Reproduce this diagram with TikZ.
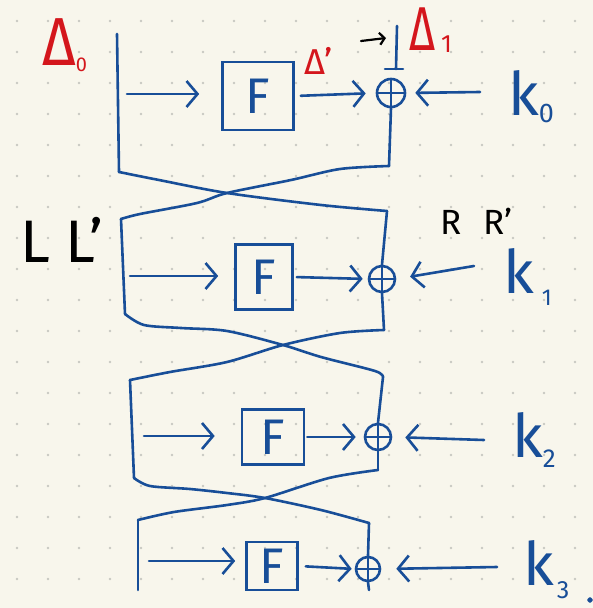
\documentclass[tikz,border=0pt]{standalone}
\usepackage{fontspec}
\setmainfont{Fira Sans}
\usepackage{graphicx}
\usetikzlibrary{arrows.meta}
\definecolor{ink}{RGB}{24,78,152}
\definecolor{redink}{RGB}{212,22,28}
\definecolor{paper}{RGB}{248,246,236}
\definecolor{gdot}{RGB}{200,200,194}
\newcommand\lowtxt[3]{\raisebox{#2}{\fontsize{#1}{#1}\selectfont #3}}
\begin{document}
\begin{tikzpicture}[x=1pt,y=-1pt,
  ink/.style={draw=ink,line width=2.6pt,line cap=round,line join=round},
  arr/.style={ink,-{Straight Barb[length=11pt,width=26pt]}},
  fbox/.style={draw=ink,line width=2.6pt,inner sep=0pt,text=ink,font=\fontsize{50}{50}\selectfont},
  xor/.style={circle,draw=ink,line width=2.6pt,inner sep=0pt,
    path picture={\draw[ink,line width=2.4pt] (path picture bounding box.north) -- (path picture bounding box.south)
      (path picture bounding box.west) -- (path picture bounding box.east);}},
  txt/.style={inner sep=0pt,anchor=base west},
  keyt/.style={txt,text=ink,font=\fontsize{60}{60}\selectfont},
]
\useasboundingbox (0,0) rectangle (593,608);
\fill[paper] (0,0) rectangle (593,608);
\foreach \i in {0,...,18} \foreach \j in {0,...,18}
  \fill[gdot] ({17+31*\i},{21+31*\j}) circle (1.4pt);

% F boxes
\node[fbox,minimum width=71pt,minimum height=68pt] (F0) at (258,96) {F};
\node[fbox,minimum width=57pt,minimum height=65pt] (F1) at (264,277) {F};
\node[fbox,minimum width=62pt,minimum height=55pt] (F2) at (273,437) {F};
\node[fbox,minimum width=51pt,minimum height=48pt] (F3) at (272,566) {F};

% XOR nodes
\node[xor,minimum size=28pt] (X0) at (391,93) {};
\node[xor,minimum size=26pt] (X1) at (382,279) {};
\node[xor,minimum size=26pt] (X2) at (378,437) {};
\node[xor,minimum size=24pt] (X3) at (368,569) {};

% keys
\node[keyt] (k0) at (508,115) {k\lowtxt{27}{-7pt}{0}};
\node[keyt] (k1) at (503,293) {k\hspace{8pt}\lowtxt{23}{-12pt}{1}};
\node[keyt] (k2) at (512,457) {k\lowtxt{26}{-10pt}{2}};
\node[keyt] (k3) at (523,585) {k\hspace{3pt}\lowtxt{25}{-13pt}{3}};
\fill[ink] (590,600) circle (1.6pt);

% labels
\node[txt,text=redink,font=\fontsize{68}{68}\selectfont] (D0) at (42,65) {\scalebox{0.85}[1]{Δ}\lowtxt{20}{-6pt}{0}};
\node[txt,text=redink,font=\fontsize{36}{36}\selectfont] (Dp) at (304,74) {Δ'};
\node[txt,text=redink,font=\fontsize{62}{62}\selectfont] (D1) at (409,50) {\scalebox{0.72}[1]{Δ}\hspace{6pt}\lowtxt{25}{-2pt}{1}};
\node[txt,font=\fontsize{60}{60}\selectfont] (LL) at (20,262) {L L'};
\node[txt,font=\fontsize{35}{35}\selectfont] (RR) at (440,234) {R\hspace{22pt}R'};

% coordinates
\coordinate (L0a) at (117,34);  \coordinate (L0b) at (119,172);
\coordinate (R0a) at (397,26);  \coordinate (R0t) at (396,69);
\coordinate (T0l) at (385,69);  \coordinate (T0r) at (403,69);
\coordinate (R0b) at (389,166); \coordinate (C0) at (227,193);
\coordinate (L1a) at (121,219); \coordinate (L1b) at (125,314);
\coordinate (R1a) at (387,211); \coordinate (R1b) at (384,330);
\coordinate (C1) at (283,345);
\coordinate (L2a) at (130,380); \coordinate (L2b) at (134,478);
\coordinate (R2a) at (383,377); \coordinate (R2b) at (378,470);
\coordinate (C2) at (265,498);
\coordinate (L3a) at (138,520); \coordinate (L3b) at (138,590);
\coordinate (R3a) at (369,523); \coordinate (R3b) at (369,590);
\coordinate (a0) at (127,94);  \coordinate (a1) at (130,276);
\coordinate (a2) at (144,436); \coordinate (a3) at (149,561);
\coordinate (ks0) at (480,92); \coordinate (ks1) at (474,266);
\coordinate (ks2) at (484,440); \coordinate (ks3) at (497,567);
\coordinate (ba1) at (361,41); \coordinate (ba2) at (386,38);

% round 0
\draw[ink] (L0a) -- (L0b);
\draw[ink] (R0a) -- (R0t);
\draw[ink] (T0l) -- (T0r);
\draw[ink] (X0.south) -- (R0b);
\draw[arr,shorten >=22pt] (a0) -- (a0 -| F0.west);
\draw[arr,shorten <=6pt,shorten >=10pt] (F0.east) -- (X0.west);
\draw[arr,shorten >=9pt] (ks0) -- (X0.east);
\draw[line width=2.2pt,line cap=round,-{Straight Barb[length=5pt,width=12pt]}] (ba1) -- (ba2);

% cross 0-1
\draw[ink] plot[smooth,tension=0.5] coordinates {(L0b) (159,180) (C0) (321,205) (R1a)};
\draw[ink] plot[smooth,tension=0.5] coordinates {(R0b) (340,169) (291,180) (C0) (197,203) (140,214) (L1a)};

% round 1
\draw[ink] (L1a) -- (L1b);
\draw[ink] (R1a) -- (X1.north);
\draw[ink] (X1.south) -- (R1b);
\draw[arr,shorten >=16pt] (a1) -- (a1 -| F1.west);
\draw[arr,shorten <=3pt,shorten >=5pt] (F1.east) -- (X1.west);
\draw[arr,shorten >=14pt] (ks1) -- (X1.east);

% cross 1-2
\draw[ink] plot[smooth,tension=0.5] coordinates {(L1b) (144,325) (181,328) (227,331) (C1) (321,357) (375,371) (R2a)};
\draw[ink] plot[smooth,tension=0.5] coordinates {(R1b) (340,333) (C1) (227,362) (170,372) (L2a)};

% round 2
\draw[ink] (L2a) -- (L2b);
\draw[ink] (R2a) -- (X2.north);
\draw[ink] (X2.south) -- (R2b);
\draw[arr,shorten >=26pt] (a2) -- (a2 -| F2.west);
\draw[arr,shorten <=2pt,shorten >=8pt] (F2.east) -- (X2.west);
\draw[arr,shorten >=13pt] (ks2) -- (X2.east);

% cross 2-3
\draw[ink] plot[smooth,tension=0.5] coordinates {(L2b) (150,486) (190,489) (227,493) (C2) (321,510) (R3a)};
\draw[ink] plot[smooth,tension=0.5] coordinates {(R2b) (329,478) (C2) (227,505) (174,512) (L3a)};

% round 3
\draw[ink] (L3a) -- (L3b);
\draw[ink] (R3a) -- (X3.north);
\draw[ink] (X3.south) -- (R3b);
\draw[arr,shorten >=10pt] (a3) -- (a3 -| F3.west);
\draw[arr,shorten <=7pt,shorten >=3pt] (F3.east) -- (X3.west);
\draw[arr,shorten >=15pt] (ks3) -- (X3.east);
\end{tikzpicture}
\end{document}
